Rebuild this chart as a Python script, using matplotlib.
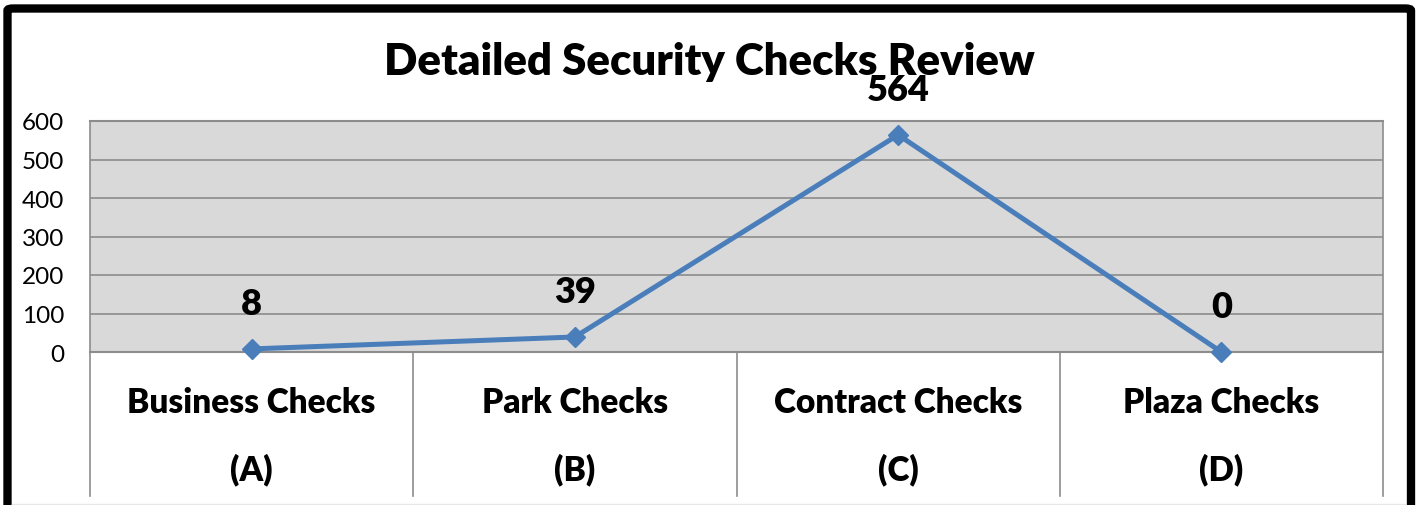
import matplotlib
matplotlib.use("Agg")
import matplotlib.pyplot as plt
from matplotlib.patches import FancyBboxPatch
from matplotlib.lines import Line2D
import matplotlib.transforms as mtransforms

plt.rcParams['font.family'] = ['Lato', 'DejaVu Sans']

# data
categories = ["Business Checks", "Park Checks", "Contract Checks", "Plaza Checks"]
codes = ["(A)", "(B)", "(C)", "(D)"]
values = [8, 39, 564, 0]
yticks = [0, 100, 200, 300, 400, 500, 600]

W, H = 1424, 506
fig = plt.figure(figsize=(W / 100, H / 100), dpi=100, facecolor='white')

# plot area in pixels: left 90, top 122, right 1383, bottom 353
ax = fig.add_axes([90 / W, (H - 353) / H, (1383 - 90) / W, (353 - 122) / H])
ax.set_facecolor('#d9d9d9')

xs = [i + 0.5 for i in range(len(values))]
line_color = '#4a7ebb'
ax.plot(xs, values, color=line_color, lw=3.6, marker='D', ms=10,
        markerfacecolor=line_color, markeredgecolor=line_color, clip_on=False, zorder=5)

for x, v in zip(xs, values):
    ax.annotate(str(v), (x, v), xytext=(0, 33), textcoords='offset points',
                ha='center', va='center', fontsize=26, fontweight='heavy', zorder=6,
                annotation_clip=False)

ax.set_xlim(0, 4)
ax.set_ylim(0, 600)
ax.set_yticks(yticks)
ax.set_xticks([])
ax.tick_params(axis='y', length=0, labelsize=17.5, pad=18.5)
for lab in ax.get_yticklabels():
    lab.set_horizontalalignment('right')
ax.yaxis.grid(True, color='#8c8c8c', lw=1.2)
ax.set_axisbelow(True)
for side in ['top', 'bottom']:
    ax.spines[side].set_color('#8c8c8c')
    ax.spines[side].set_linewidth(1.5)
for side in ['left', 'right']:
    ax.spines[side].set_visible(False)

# category dividers extending below the axis
trans = mtransforms.blended_transform_factory(ax.transData, ax.transAxes)
bottom_ax = (353 - 497) / (353 - 122)
for i in range(len(categories) + 1):
    ax.plot([i, i], [bottom_ax, 1 if i in (0, len(categories)) else 0], transform=trans,
            color='#8c8c8c', lw=1.2, clip_on=False, zorder=1)

# category labels
y1 = (353 - 403) / (353 - 122)
y2 = (353 - 470) / (353 - 122)
for x, c, code in zip(xs, categories, codes):
    ax.text(x, y1, c, transform=trans, ha='center', va='center',
            fontsize=24, fontweight='heavy')
    ax.text(x, y2, code, transform=trans, ha='center', va='center',
            fontsize=24, fontweight='heavy')

fig.text(709 / W, 1 - 62 / H, "Detailed Security Checks Review", ha='center', va='center',
         fontsize=31.5, fontweight='heavy')

# outer black frame
frame = FancyBboxPatch((7.5 / W, -20 / H), (1411 - 7.5) / W, (H - 9.5 + 20) / H,
                       boxstyle='round,pad=0,rounding_size=0.004',
                       transform=fig.transFigure, fill=False, edgecolor='black',
                       lw=6, clip_on=False)
fig.patches.append(frame)
fig.add_artist(Line2D([12 / W, 1405 / W], [1.5 / H, 1.5 / H], transform=fig.transFigure,
                      color='#e6e6e6', lw=1))

fig.savefig('out.png', dpi=100, facecolor='white')
